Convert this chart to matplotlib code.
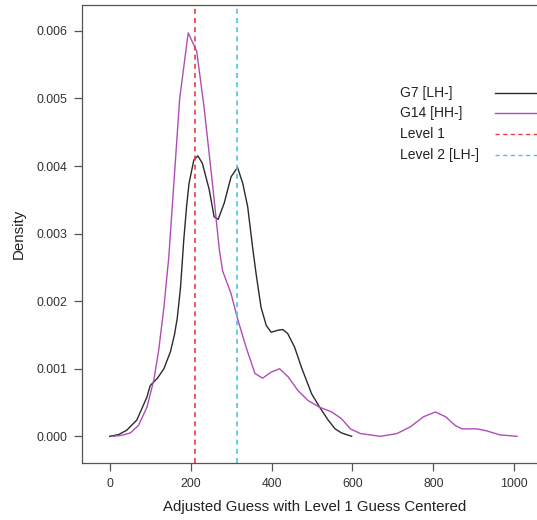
import numpy as np
import matplotlib.pyplot as plt

plt.rcParams['font.family'] = ['Liberation Sans', 'DejaVu Sans']

# G7 [LH-] density curve
g7_x = [0, 22, 42, 67, 92, 100, 118, 134, 150, 160, 167, 175, 183, 190, 196, 208,
        218, 229, 246, 258, 268, 283, 300, 316, 329, 341, 354, 362, 374, 387, 399,
        416, 428, 440, 457, 474, 499, 519, 540, 557, 573, 598]
g7_y = [0.0, 0.000025, 0.00009, 0.00024, 0.00058, 0.00075, 0.00086, 0.001,
        0.00125, 0.0015, 0.00175, 0.0022, 0.0029, 0.0034, 0.00374, 0.00409,
        0.00415, 0.00404, 0.00365, 0.00325, 0.00321, 0.00345, 0.00384, 0.00398,
        0.00374, 0.0034, 0.00276, 0.0024, 0.00191, 0.00164, 0.00154, 0.00157,
        0.00158, 0.00152, 0.00132, 0.00102, 0.00063, 0.00043, 0.00024, 0.00011,
        0.00005, 0.0]

# G14 [HH-] density curve
g14_x = [9, 30, 51, 71, 92, 109, 121, 134, 146, 173, 194, 215, 233, 254, 271, 279,
         300, 316, 337, 359, 378, 399, 420, 441, 465, 490, 519, 549, 573, 595, 620,
         669, 710, 743, 776, 805, 830, 854, 871, 908, 932, 965, 1007]
g14_y = [0.0, 0.000015, 0.00005, 0.00016, 0.00043, 0.00083, 0.00127, 0.00191,
         0.00265, 0.005, 0.00597, 0.0057, 0.00488, 0.00374, 0.00276, 0.00245,
         0.00211, 0.00174, 0.00132, 0.00093, 0.00086, 0.00095, 0.001, 0.00088,
         0.00068, 0.00053, 0.00043, 0.00036, 0.00026, 0.00011, 0.00004, 0.0,
         0.00004, 0.00014, 0.00029, 0.00036, 0.00029, 0.00016, 0.00011, 0.00011,
         0.00008, 0.00002, 0.0]

level1 = 210
level2 = 315

labels = ['G7 [LH-]', 'G14 [HH-]', 'Level 1', 'Level 2 [LH-]']
colors = ['#2b2b2b', '#b04cb8', '#f0393f', '#4fc0ec']

fig = plt.figure(figsize=(5.37, 5.2), dpi=100)
ax = fig.add_axes([0.1527, 0.109, 0.8652, 0.881])

ax.plot(g7_x, g7_y, color=colors[0], lw=1.0)
ax.plot(g14_x, g14_y, color=colors[1], lw=1.0)
ax.axvline(level1, color=colors[2], lw=1.2, dashes=(3, 2.5))
ax.axvline(level2, color=colors[3], lw=1.2, dashes=(3, 2.5))

ax.set_xlim(-68.5, 1080)
ax.set_ylim(-0.0004, 0.00638)
ax.set_xticks([0, 200, 400, 600, 800, 1000])
ax.set_yticks([0, 0.001, 0.002, 0.003, 0.004, 0.005, 0.006])
ax.set_yticklabels([f'{v:.3f}' for v in ax.get_yticks()])

for s in ax.spines.values():
    s.set_color('#555555')
    s.set_linewidth(0.9)
ax.tick_params(length=5.5, width=0.9, color='#555555', labelsize=8.9,
               labelcolor='#333333', pad=5)

ax.set_xlabel('Adjusted Guess with Level 1 Guess Centered', fontsize=10.85,
              color='#222222', labelpad=7)
ax.set_ylabel('Density', fontsize=10.85, color='#222222', labelpad=8)

# legend drawn by hand: text on the left, line sample on the right
styles = [dict(), dict(), dict(dashes=(3, 2.5)), dict(dashes=(3, 2.5))]
for i, (lab, col, st) in enumerate(zip(labels, colors, styles)):
    yy = 0.8093 - i * 0.0457
    ax.text(0.6845, yy, lab, transform=ax.transAxes, fontsize=10,
            color='#222222', va='center', ha='left')
    ax.plot([0.889, 1.0], [yy, yy], transform=ax.transAxes, color=col,
            lw=1.0, clip_on=False, **st)

fig.savefig('out.png', dpi=100)
